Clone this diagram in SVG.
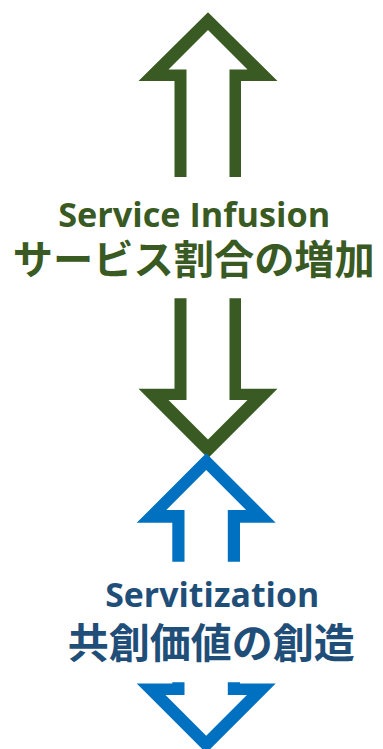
<svg xmlns="http://www.w3.org/2000/svg" width="383" height="749" viewBox="0 0 383 749">
  <style>
    .g { fill: #3A5A23; }
    .b { fill: #0070C0; }
    .en { font-family: "Open Sans", "Noto Sans", sans-serif; font-weight: bold; text-anchor: middle; }
    .jp { font-family: "Noto Sans CJK JP", sans-serif; font-weight: bold; text-anchor: middle; }
    .gt { fill: #3A5A23; }
    .bt { fill: #1F4E79; }
  </style>
  <rect width="383" height="749" fill="#FFFFFF"/>
  <g id="connectors">
    <polygon id="green-up" class="g" points="208,12.3 277.5,81 241,81 241,177 229.5,177 229.5,69.5 247.5,69.5 208,30 168.5,69.5 186.5,69.5 186.5,177 174.5,177 174.5,81 138.5,81"/>
    <polygon id="green-down" class="g" points="174.5,298.3 186.5,298.3 186.5,400 168.5,400 208,439.5 247.5,400 229.5,400 229.5,298.3 241,298.3 241,388.7 277.5,388.7 208,458.2 138.5,388.7 174.5,388.7"/>
    <polygon id="blue-up" class="b" points="206.2,453.3 275.7,522.8 240,522.8 240,561.7 227.8,561.7 227.8,510 246.1,510 206.2,470.1 166.3,510 184.5,510 184.5,561.7 172.3,561.7 172.3,522.8 136.7,522.8"/>
    <polygon id="blue-down" class="b" points="172.3,682.3 184.5,682.3 184.5,695 165.5,695 206.2,735.7 246.9,695 227.8,695 227.8,682.3 240,682.3 240,683.5 275.7,683.5 206.2,753 136.7,683.5 172.3,683.5"/>
  </g>
  <g id="service-infusion">
    <text class="en gt" x="194.2" y="226.7" font-size="34" textLength="272" lengthAdjust="spacingAndGlyphs">Service Infusion</text>
    <text class="jp gt" x="193.8" y="274" font-size="40" textLength="362" lengthAdjust="spacingAndGlyphs">サービス割合の増加</text>
  </g>
  <g id="servitization">
    <text class="en bt" x="212.2" y="607.3" font-size="34" textLength="214" lengthAdjust="spacingAndGlyphs">Servitization</text>
    <text class="jp bt" x="211.3" y="657.5" font-size="41" textLength="287" lengthAdjust="spacingAndGlyphs">共創価値の創造</text>
  </g>
</svg>
